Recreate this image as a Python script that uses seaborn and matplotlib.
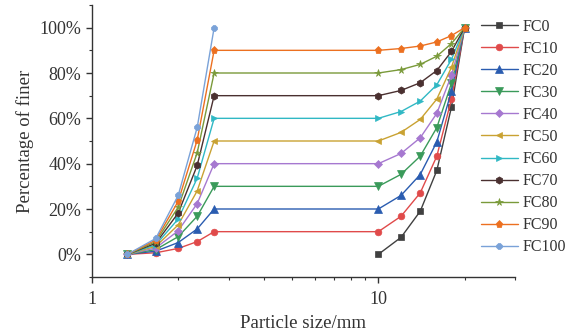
import matplotlib
matplotlib.use("Agg")
import matplotlib.pyplot as plt
import seaborn as sns
import pandas as pd
from matplotlib.ticker import MultipleLocator, FuncFormatter, LogLocator, NullFormatter

# ---- data ----
sand_sizes = [1.33, 1.67, 2.0, 2.33, 2.67]
gravel_sizes = [10, 12, 14, 16, 18, 20]

series_names = ["FC0", "FC10", "FC20", "FC30", "FC40", "FC50",
                "FC60", "FC70", "FC80", "FC90", "FC100"]

sand_values = {
    "FC10": [0, 0.7, 2.6, 5.6, 10],
    "FC20": [0, 1.4, 5.2, 11.2, 20],
    "FC30": [0, 2.1, 7.8, 16.8, 30],
    "FC40": [0, 2.8, 10.4, 22.4, 40],
    "FC50": [0, 3.5, 13.0, 28.0, 50],
    "FC60": [0, 4.2, 15.6, 33.6, 60],
    "FC70": [0, 4.9, 18.2, 39.2, 70],
    "FC80": [0, 5.6, 20.8, 44.8, 80],
    "FC90": [0, 6.3, 23.4, 50.4, 90],
    "FC100": [0, 7.0, 26.0, 56.0, 100],
}
gravel_values = {
    "FC0": [0, 7.5, 19.0, 37.0, 65.0, 100],
    "FC10": [10, 16.8, 27.1, 43.3, 68.5, 100],
    "FC20": [20, 26.0, 35.2, 49.6, 72.0, 100],
    "FC30": [30, 35.3, 43.3, 55.9, 75.5, 100],
    "FC40": [40, 44.5, 51.4, 62.2, 79.0, 100],
    "FC50": [50, 53.8, 59.5, 68.5, 82.5, 100],
    "FC60": [60, 63.0, 67.6, 74.8, 86.0, 100],
    "FC70": [70, 72.3, 75.7, 81.1, 89.5, 100],
    "FC80": [80, 81.5, 83.8, 87.4, 93.0, 100],
    "FC90": [90, 90.8, 91.9, 93.7, 96.5, 100],
}

colors = ["#404040", "#e04a4a", "#2a5cb0", "#3a9a5a", "#a678d0", "#c9a232",
          "#30b8c4", "#4a3030", "#7a9a3a", "#ec7020", "#7aa2d8"]
markers = ["s", "o", "^", "v", "D", "<", ">", "h", "*", "p", "8"]
marker_sizes = [4.2, 4.8, 5.2, 5.2, 4.0, 5.0, 5.0, 5.2, 5.5, 5.2, 4.8]

rows = []
for name in series_names:
    xs, ys = [], []
    if name in sand_values:
        xs += sand_sizes
        ys += sand_values[name]
    if name in gravel_values:
        xs += gravel_sizes
        ys += gravel_values[name]
    for order, (x, y) in enumerate(zip(xs, ys)):
        rows.append({"series": name, "size": x, "pct": y, "order": order})
df = pd.DataFrame(rows)

sns.set_theme(style="ticks")
plt.rcParams["font.family"] = ["Liberation Serif", "DejaVu Serif"]

fig = plt.figure(figsize=(5.73, 3.32), dpi=100)
ax = fig.add_axes([92 / 573, 55 / 332, (515 - 92) / 573, (277 - 5) / 332])

for name, col, mk, ms in zip(series_names, colors, markers, marker_sizes):
    sub = df[df["series"] == name]
    sns.lineplot(data=sub, x="size", y="pct", color=col, marker=mk,
                 markersize=ms, markeredgewidth=0.5, markeredgecolor=col,
                 linewidth=1.0, sort=False, estimator=None, label=name, ax=ax)

ax.set_xscale("log")
ax.set_xlim(1, 30)
ax.set_ylim(-10, 110)
ax.xaxis.set_major_locator(LogLocator(base=10, numticks=5))
ax.xaxis.set_minor_locator(LogLocator(base=10, subs=range(2, 10), numticks=20))
ax.xaxis.set_major_formatter(FuncFormatter(lambda v, p: f"{v:g}"))
ax.xaxis.set_minor_formatter(NullFormatter())
ax.yaxis.set_major_locator(MultipleLocator(20))
ax.yaxis.set_minor_locator(MultipleLocator(10))
ax.yaxis.set_major_formatter(FuncFormatter(lambda v, p: f"{v:.0f}%"))

for side in ["top", "right"]:
    ax.spines[side].set_visible(False)
for side in ["left", "bottom"]:
    ax.spines[side].set_color("#333333")
    ax.spines[side].set_linewidth(1.0)
ax.tick_params(axis="both", which="major", direction="out", length=4,
               width=1.0, color="#333333", labelsize=13, labelcolor="#333333")
ax.tick_params(axis="x", which="major", pad=6)
ax.tick_params(axis="both", which="minor", direction="out", length=2.5,
               width=0.8, color="#333333")

ax.set_xlabel("Particle size/mm", fontsize=13.5, color="#333333", labelpad=5)
ax.set_ylabel("Percentage of finer", fontsize=13.5, color="#333333", labelpad=4)

handles, labels = ax.get_legend_handles_labels()
ax.legend(handles, labels, loc="upper left", bbox_to_anchor=(476 / 573, 0.958),
          bbox_transform=fig.transFigure, frameon=False, fontsize=11.5,
          handlelength=2.3, handletextpad=0.3, labelspacing=0.38,
          borderaxespad=0, borderpad=0.3)
for t in ax.get_legend().get_texts():
    t.set_color("#333333")

fig.savefig("out.png", dpi=100)
